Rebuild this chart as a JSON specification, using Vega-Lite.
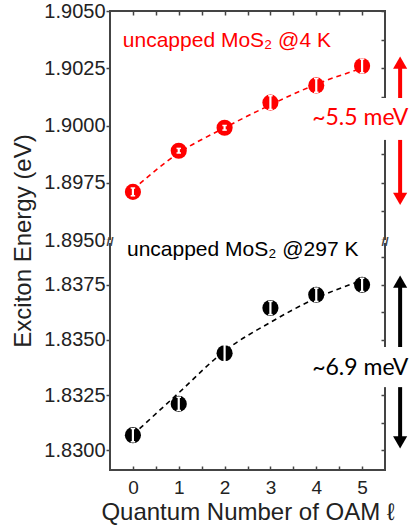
{
  "$schema": "https://vega.github.io/schema/vega-lite/v6.json",
  "width": 275,
  "height": 459,
  "autosize": {"type": "none"},
  "padding": {"left": 110, "top": 11, "right": 24, "bottom": 55},
  "background": "white",
  "config": {
    "view": {"stroke": "#444", "strokeWidth": 2},
    "axis": {"domain": false, "grid": false, "labelFont": "Liberation Sans", "titleFont": "Liberation Sans", "tickColor": "#444", "tickWidth": 1.5, "labelColor": "#222", "titleColor": "#222", "titleFontWeight": "normal"}
  },
  "datasets": {
    "fit": [
      {"s": "4K", "l": 0, "E": 1.8972}, {"s": "4K", "l": 1, "E": 1.8988}, {"s": "4K", "l": 2, "E": 1.8999},
      {"s": "4K", "l": 3, "E": 1.9009}, {"s": "4K", "l": 4, "E": 1.9018}, {"s": "4K", "l": 5, "E": 1.9025},
      {"s": "297K", "l": 0, "E": 1.8307}, {"s": "297K", "l": 1, "E": 1.8326}, {"s": "297K", "l": 2, "E": 1.8345},
      {"s": "297K", "l": 3, "E": 1.8358}, {"s": "297K", "l": 4, "E": 1.8369}, {"s": "297K", "l": 5, "E": 1.8377}
    ],
    "pts": [
      {"s": "4K", "l": 0, "E": 1.8971, "lo": 1.89693, "hi": 1.89727},
      {"s": "4K", "l": 1, "E": 1.8989, "lo": 1.8988, "hi": 1.899},
      {"s": "4K", "l": 2, "E": 1.8999, "lo": 1.8998, "hi": 1.9},
      {"s": "4K", "l": 3, "E": 1.901, "lo": 1.9007, "hi": 1.9013},
      {"s": "4K", "l": 4, "E": 1.90175, "lo": 1.90145, "hi": 1.90205},
      {"s": "4K", "l": 5, "E": 1.9026, "lo": 1.9023, "hi": 1.9029},
      {"s": "297K", "l": 0, "E": 1.83068, "lo": 1.83038, "hi": 1.83098},
      {"s": "297K", "l": 1, "E": 1.8321, "lo": 1.8318, "hi": 1.8324},
      {"s": "297K", "l": 2, "E": 1.8344, "lo": 1.834, "hi": 1.8348},
      {"s": "297K", "l": 3, "E": 1.83645, "lo": 1.83615, "hi": 1.83675},
      {"s": "297K", "l": 4, "E": 1.83705, "lo": 1.83675, "hi": 1.83735},
      {"s": "297K", "l": 5, "E": 1.8375, "lo": 1.8372, "hi": 1.8378}
    ],
    "labels": [
      {"s": "4K", "x": -0.22, "y": 1.90369, "t": "uncapped MoS₂ @4 K"},
      {"s": "297K", "x": -0.13, "y": 1.83909, "t": "uncapped MoS₂ @297 K"}
    ],
    "shafts": [
      {"s": "4K", "x": 5.83, "y": 1.90269, "y2": 1.9012},
      {"s": "4K", "x": 5.83, "y": 1.89937, "y2": 1.89686},
      {"s": "297K", "x": 5.83, "y": 1.83759, "y2": 1.83468},
      {"s": "297K", "x": 5.83, "y": 1.83286, "y2": 1.83041}
    ],
    "heads": [
      {"s": "4K", "x": 5.83, "y": 1.90275, "dir": "up"},
      {"s": "4K", "x": 5.83, "y": 1.8968, "dir": "down"},
      {"s": "297K", "x": 5.83, "y": 1.83765, "dir": "up"},
      {"s": "297K", "x": 5.83, "y": 1.83035, "dir": "down"}
    ],
    "mev": [
      {"s": "4K", "x": 4.96, "y": 1.90033, "t": "~5.5 meV", "xa": 5.4, "xb": 5.6, "ya": 1.89937, "yb": 1.9012},
      {"s": "297K", "x": 4.96, "y": 1.83373, "t": "~6.9 meV", "xa": 5.4, "xb": 5.6, "ya": 1.83286, "yb": 1.83468}
    ],
    "gap": [{"xa": -0.62, "xb": 5.62, "ya": 1.8394, "yb": 1.895}],
    "brk": [{"x": -0.5, "y": 1.867}, {"x": 5.5, "y": 1.867}]
  },
  "resolve": {"axis": {"x": "independent", "y": "independent"}},
  "layer": [
    {
      "data": {"name": "fit"},
      "mark": {"type": "line", "strokeDash": [5, 4], "strokeWidth": 1.6, "interpolate": "monotone"},
      "encoding": {
        "x": {"field": "l", "type": "quantitative", "scale": {"domain": [-0.5, 5.5], "nice": false, "zero": false},
          "axis": {"orient": "bottom", "values": [0, 0.5, 1, 1.5, 2, 2.5, 3, 3.5, 4, 4.5, 5], "labelExpr": "datum.value % 1 == 0 ? format(datum.value, 'd') : ''", "tickSize": -4, "labelPadding": 12, "labelFontSize": 19, "title": "Quantum Number of OAM  ℓ", "titleFontSize": 24, "titlePadding": 3}},
        "y": {"field": "E", "type": "quantitative", "scale": {"domain": [1.8291, 1.8394, 1.895, 1.905], "range": [459, 232, 229, 0], "nice": false, "zero": false},
          "axis": {"orient": "left", "values": [1.83, 1.8325, 1.835, 1.8375, 1.895, 1.8975, 1.9, 1.9025, 1.905], "format": ".4f", "tickSize": 4, "labelPadding": 1, "labelFontSize": 20, "title": "Exciton Energy (eV)", "titleFontSize": 24, "titlePadding": 8}},
        "color": {"field": "s", "type": "nominal", "scale": {"domain": ["4K", "297K"], "range": ["#ff0000", "#000000"]}, "legend": null}
      }
    },
    {
      "data": {"name": "pts"},
      "mark": {"type": "point", "opacity": 0},
      "encoding": {
        "x": {"field": "l", "type": "quantitative", "scale": {"domain": [-0.5, 5.5], "nice": false, "zero": false},
          "axis": {"orient": "top", "values": [0, 0.5, 1, 1.5, 2, 2.5, 3, 3.5, 4, 4.5, 5], "labels": false, "tickSize": -4, "title": null}},
        "y": {"field": "E", "type": "quantitative", "scale": {"domain": [1.8291, 1.8394, 1.895, 1.905], "range": [459, 232, 229, 0], "nice": false, "zero": false},
          "axis": {"orient": "right", "values": [1.83, 1.83125, 1.8325, 1.83375, 1.835, 1.83625, 1.8375, 1.83875, 1.895, 1.89625, 1.8975, 1.89875, 1.9, 1.90125, 1.9025, 1.90375, 1.905], "labels": false, "tickSize": -4, "title": null}}
      }
    },
    {
      "data": {"name": "pts"},
      "mark": {"type": "circle", "size": 260, "opacity": 1},
      "encoding": {
        "x": {"field": "l", "type": "quantitative", "scale": {"domain": [-0.5, 5.5], "nice": false, "zero": false}, "axis": null},
        "y": {"field": "E", "type": "quantitative", "scale": {"domain": [1.8291, 1.8394, 1.895, 1.905], "range": [459, 232, 229, 0], "nice": false, "zero": false}, "axis": null},
        "color": {"field": "s", "type": "nominal", "scale": {"domain": ["4K", "297K"], "range": ["#ff0000", "#000000"]}, "legend": null}
      }
    },
    {
      "data": {"name": "pts"},
      "mark": {"type": "rule", "color": "white", "strokeWidth": 2.2},
      "encoding": {
        "x": {"field": "l", "type": "quantitative", "scale": {"domain": [-0.5, 5.5], "nice": false, "zero": false}, "axis": null},
        "y": {"field": "lo", "type": "quantitative", "scale": {"domain": [1.8291, 1.8394, 1.895, 1.905], "range": [459, 232, 229, 0], "nice": false, "zero": false}, "axis": null},
        "y2": {"field": "hi"}
      }
    },
    {
      "data": {"name": "pts"},
      "transform": [{"fold": ["lo", "hi"], "as": ["k", "v"]}],
      "mark": {"type": "point", "shape": "stroke", "color": "white", "strokeWidth": 1.5, "size": 20, "opacity": 1},
      "encoding": {
        "x": {"field": "l", "type": "quantitative", "scale": {"domain": [-0.5, 5.5], "nice": false, "zero": false}, "axis": null},
        "y": {"field": "v", "type": "quantitative", "scale": {"domain": [1.8291, 1.8394, 1.895, 1.905], "range": [459, 232, 229, 0], "nice": false, "zero": false}, "axis": null}
      }
    },
    {
      "data": {"name": "gap"},
      "mark": {"type": "rect", "color": "white", "clip": false},
      "encoding": {
        "x": {"field": "xa", "type": "quantitative", "scale": {"domain": [-0.5, 5.5], "nice": false, "zero": false}, "axis": null},
        "x2": {"field": "xb"},
        "y": {"field": "ya", "type": "quantitative", "scale": {"domain": [1.8291, 1.8394, 1.895, 1.905], "range": [459, 232, 229, 0], "nice": false, "zero": false}, "axis": null},
        "y2": {"field": "yb"}
      }
    },
    {
      "data": {"name": "brk"},
      "mark": {"type": "text", "text": "//", "font": "Liberation Sans", "fontSize": 13, "fontWeight": "bold", "color": "#444", "align": "center", "baseline": "middle", "clip": false},
      "encoding": {
        "x": {"field": "x", "type": "quantitative", "scale": {"domain": [-0.5, 5.5], "nice": false, "zero": false}, "axis": null},
        "y": {"field": "y", "type": "quantitative", "scale": {"domain": [1.8291, 1.8394, 1.895, 1.905], "range": [459, 232, 229, 0], "nice": false, "zero": false}, "axis": null}
      }
    },
    {
      "data": {"name": "labels"},
      "mark": {"type": "text", "font": "Liberation Sans", "fontSize": 21, "align": "left", "baseline": "middle"},
      "encoding": {
        "x": {"field": "x", "type": "quantitative", "scale": {"domain": [-0.5, 5.5], "nice": false, "zero": false}, "axis": null},
        "y": {"field": "y", "type": "quantitative", "scale": {"domain": [1.8291, 1.8394, 1.895, 1.905], "range": [459, 232, 229, 0], "nice": false, "zero": false}, "axis": null},
        "text": {"field": "t"},
        "color": {"field": "s", "type": "nominal", "scale": {"domain": ["4K", "297K"], "range": ["#ff0000", "#000000"]}, "legend": null}
      }
    },
    {
      "data": {"name": "mev"},
      "mark": {"type": "rect", "color": "white", "clip": false},
      "encoding": {
        "x": {"field": "xa", "type": "quantitative", "scale": {"domain": [-0.5, 5.5], "nice": false, "zero": false}, "axis": null},
        "x2": {"field": "xb"},
        "y": {"field": "ya", "type": "quantitative", "scale": {"domain": [1.8291, 1.8394, 1.895, 1.905], "range": [459, 232, 229, 0], "nice": false, "zero": false}, "axis": null},
        "y2": {"field": "yb"}
      }
    },
    {
      "data": {"name": "mev"},
      "mark": {"type": "text", "font": "Lato", "fontSize": 23, "align": "center", "baseline": "middle", "clip": false},
      "encoding": {
        "x": {"field": "x", "type": "quantitative", "scale": {"domain": [-0.5, 5.5], "nice": false, "zero": false}, "axis": null},
        "y": {"field": "y", "type": "quantitative", "scale": {"domain": [1.8291, 1.8394, 1.895, 1.905], "range": [459, 232, 229, 0], "nice": false, "zero": false}, "axis": null},
        "text": {"field": "t"},
        "color": {"field": "s", "type": "nominal", "scale": {"domain": ["4K", "297K"], "range": ["#ff0000", "#000000"]}, "legend": null}
      }
    },
    {
      "data": {"name": "shafts"},
      "mark": {"type": "rule", "strokeWidth": 4, "clip": false},
      "encoding": {
        "x": {"field": "x", "type": "quantitative", "scale": {"domain": [-0.5, 5.5], "nice": false, "zero": false}, "axis": null},
        "y": {"field": "y", "type": "quantitative", "scale": {"domain": [1.8291, 1.8394, 1.895, 1.905], "range": [459, 232, 229, 0], "nice": false, "zero": false}, "axis": null},
        "y2": {"field": "y2"},
        "color": {"field": "s", "type": "nominal", "scale": {"domain": ["4K", "297K"], "range": ["#ff0000", "#000000"]}, "legend": null}
      }
    },
    {
      "data": {"name": "heads"},
      "mark": {"type": "point", "filled": true, "opacity": 1, "size": 200, "clip": false},
      "encoding": {
        "x": {"field": "x", "type": "quantitative", "scale": {"domain": [-0.5, 5.5], "nice": false, "zero": false}, "axis": null},
        "y": {"field": "y", "type": "quantitative", "scale": {"domain": [1.8291, 1.8394, 1.895, 1.905], "range": [459, 232, 229, 0], "nice": false, "zero": false}, "axis": null},
        "shape": {"field": "dir", "type": "nominal", "scale": {"domain": ["up", "down"], "range": ["triangle-up", "triangle-down"]}, "legend": null},
        "color": {"field": "s", "type": "nominal", "scale": {"domain": ["4K", "297K"], "range": ["#ff0000", "#000000"]}, "legend": null}
      }
    }
  ]
}
